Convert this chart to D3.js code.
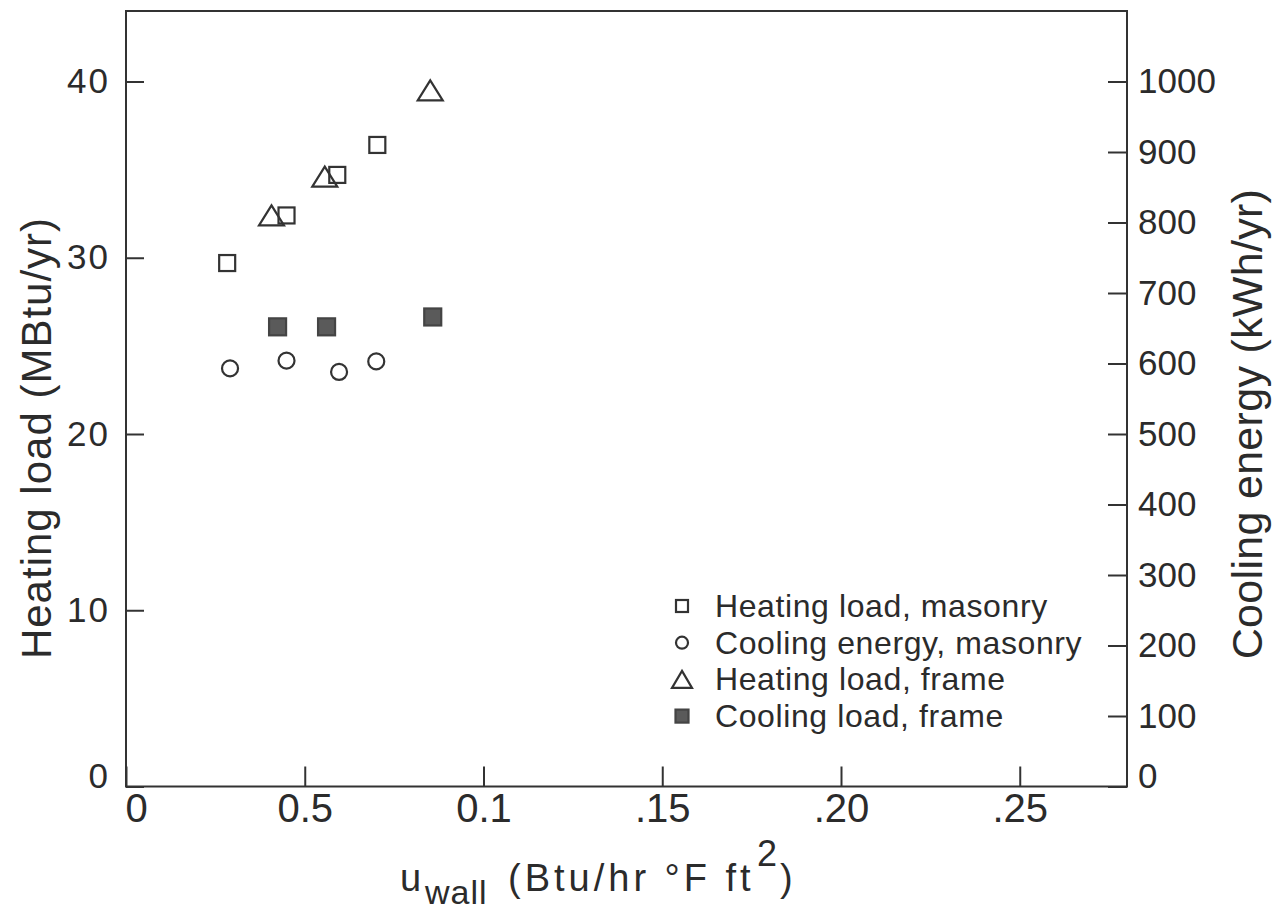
<!DOCTYPE html>
<html><head><meta charset="utf-8">
<script src="https://cdn.jsdelivr.net/npm/d3@7"></script>
<style>
body{margin:0;background:#fff;}
svg text{font-family:"Liberation Sans",Arial,sans-serif;fill:#2b2b2b;}
</style></head><body>
<svg id="c" width="1277" height="914"></svg>
<script>
// ---- data ----
const xTicks = [0, 0.05, 0.1, 0.15, 0.2, 0.25];
const xTickLabels = ["0", "0.5", "0.1", ".15", ".20", ".25"];
const yLeftTicks = [0, 10, 20, 30, 40];
const yRightTicks = [0, 100, 200, 300, 400, 500, 600, 700, 800, 900, 1000];

const heatMasonryU = [0.0283, 0.0449, 0.0591, 0.0703];
const heatMasonryMBtu = [29.7, 32.4, 34.7, 36.4];
const coolMasonryU = [0.0291, 0.0449, 0.0596, 0.0700];
const coolMasonryKWh = [593, 604, 588, 603];
const heatFrameU = [0.0407, 0.0556, 0.0851];
const heatFrameMBtu = [32.4, 34.6, 39.5];
const coolFrameU = [0.0424, 0.0561, 0.0858];
const coolFrameKWh = [652, 652, 666];

const legendLabels = ["Heating load, masonry", "Cooling energy, masonry", "Heating load, frame", "Cooling load, frame"];
const legendTypes = ["square", "circle", "triangle", "filled"];

// ---- layout ----
const L = 126, R = 1127, T = 11, B = 786.5;
const ink = "#333";
const svg = d3.select("#c");

const x = d3.scaleLinear().domain([0, 0.28]).range([L, R]);
const yL = d3.scaleLinear().domain([0, 44]).range([B, T]);
const yR = d3.scaleLinear().domain([0, 1100]).range([B, T]);

// frame
svg.append("rect").attr("x", L).attr("y", T).attr("width", R - L).attr("height", B - T)
  .attr("fill", "none").attr("stroke", ink).attr("stroke-width", 2);

// axes
function styleAxis(g, fs) {
  g.attr("font-family", "Liberation Sans, Arial, sans-serif").attr("font-size", fs).attr("color", ink);
  g.select(".domain").remove();
  g.selectAll(".tick line").attr("stroke-width", 2);
  g.selectAll(".tick text").attr("fill", "#2b2b2b");
}
const gx = svg.append("g").attr("transform", `translate(0,${B})`)
  .call(d3.axisBottom(x).tickValues(xTicks).tickFormat((d, i) => xTickLabels[i]).tickSize(-20).tickPadding(7));
styleAxis(gx, 40);
gx.selectAll(".tick text").filter(d => d === 0).attr("dx", 10);

const gl = svg.append("g").attr("transform", `translate(${L},0)`)
  .call(d3.axisLeft(yL).tickValues(yLeftTicks).tickFormat(d3.format("d")).tickSize(-18).tickPadding(16));
styleAxis(gl, 35);
gl.selectAll(".tick text").attr("letter-spacing", 2);
gl.selectAll(".tick text").filter(d => d === 0).attr("y", -10);

const gr = svg.append("g").attr("transform", `translate(${R},0)`)
  .call(d3.axisRight(yR).tickValues(yRightTicks).tickFormat(d3.format("d")).tickSize(-19).tickPadding(11));
styleAxis(gr, 35);
gr.selectAll(".tick text").filter(d => d === 0).attr("y", -10);

// markers
function square(g, cx, cy, s, filled) {
  g.append("rect").attr("x", cx - s / 2).attr("y", cy - s / 2).attr("width", s).attr("height", s)
    .attr("fill", filled ? "#5a5a5a" : "none").attr("stroke", filled ? "#444" : ink).attr("stroke-width", 2.2);
}
function circle(g, cx, cy, r) {
  g.append("circle").attr("cx", cx).attr("cy", cy).attr("r", r)
    .attr("fill", "none").attr("stroke", ink).attr("stroke-width", 2.2);
}
function triangle(g, cx, cy, w, h) {
  g.append("path").attr("d", `M${cx},${cy - h / 2}L${cx + w / 2},${cy + h / 2}L${cx - w / 2},${cy + h / 2}Z`)
    .attr("fill", "none").attr("stroke", ink).attr("stroke-width", 2.2).attr("stroke-linejoin", "miter");
}
const pts = svg.append("g");
heatMasonryU.forEach((u, i) => square(pts, x(u), yL(heatMasonryMBtu[i]), 16, false));
coolMasonryU.forEach((u, i) => circle(pts, x(u), yR(coolMasonryKWh[i]), 8));
heatFrameU.forEach((u, i) => triangle(pts, x(u), yL(heatFrameMBtu[i]), 25, 20));
coolFrameU.forEach((u, i) => square(pts, x(u), yR(coolFrameKWh[i]), 17, true));

// legend
const lg = svg.append("g");
legendLabels.forEach((lab, i) => {
  const by = 617 + 36.7 * i;
  const cx = 682, cy = by - 11;
  const t = legendTypes[i];
  if (t === "square") square(lg, cx, cy, 12, false);
  else if (t === "circle") circle(lg, cx, cy, 6);
  else if (t === "triangle") triangle(lg, cx, cy, 20, 17);
  else square(lg, cx, cy, 13, true);
  lg.append("text").attr("x", 715).attr("y", by).attr("font-size", 32).attr("letter-spacing", 0.6).text(lab);
});

// axis titles
svg.append("text").attr("transform", "translate(51,438) rotate(-90)").attr("text-anchor", "middle")
  .attr("font-size", 42).attr("letter-spacing", 1).text("Heating load (MBtu/yr)");
svg.append("text").attr("transform", "translate(1262,424) rotate(-90)").attr("text-anchor", "middle")
  .attr("font-size", 43).attr("letter-spacing", 0.3).text("Cooling energy (kWh/yr)");

const xt = svg.append("text").attr("font-size", 38);
xt.append("tspan").attr("x", 400).attr("y", 891).text("u");
xt.append("tspan").attr("x", 425).attr("y", 904).attr("font-size", 34).attr("letter-spacing", 1).text("wall");
xt.append("tspan").attr("x", 508).attr("y", 891).attr("letter-spacing", 4).text("(Btu/hr °F ft");
xt.append("tspan").attr("x", 757).attr("y", 866).attr("font-size", 36).text("2");
xt.append("tspan").attr("x", 780).attr("y", 891).text(")");
</script>
</body></html>
